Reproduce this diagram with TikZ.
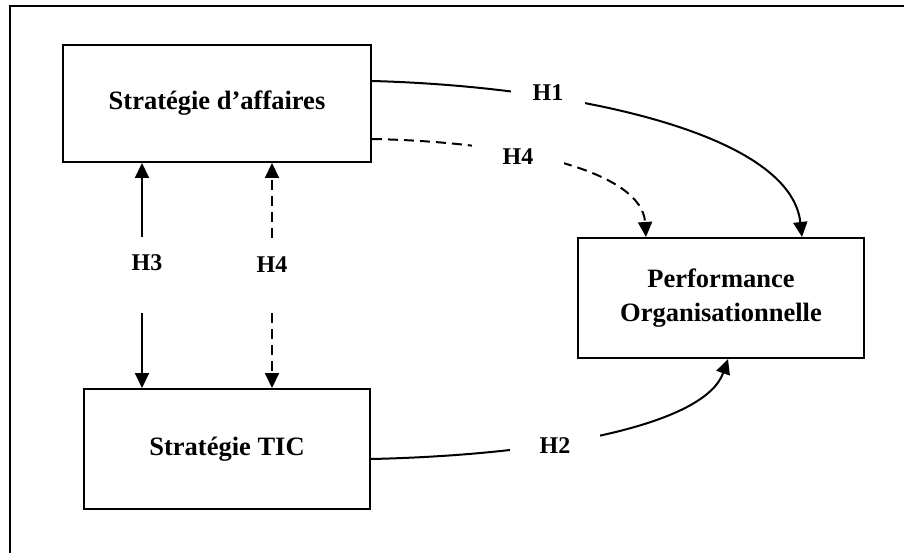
\documentclass[tikz,border=0pt]{standalone}
\usepackage{fontspec}
\setmainfont{Liberation Serif}
\usetikzlibrary{arrows.meta}
\begin{document}
\begin{tikzpicture}[x=1pt,y=-1pt,
  box/.style={draw,line width=2pt,inner sep=0pt,align=center,
    font=\fontsize{26.5}{34}\selectfont\bfseries},
  lab/.style={fill=white,inner sep=0pt,font=\fontsize{24}{28}\selectfont\bfseries},
  conn/.style={line width=2pt,-{Triangle[width=14pt,length=15pt]}},
  dconn/.style={conn,dash pattern=on 10pt off 6pt},
]
\useasboundingbox (0,0) rectangle (904,553);
\draw[line width=2pt] (10,570) -- (10,6) -- (920,6);

\node[box,minimum width=308pt,minimum height=117pt] (sa) at (217,103.5) {Stratégie d’affaires};
\node[box,minimum width=286pt,minimum height=120pt] (st) at (227,449) {Stratégie TIC};
\node[box,minimum width=286pt,minimum height=120pt] (pf) at (721,298) {Performance\\Organisationnelle};

% curved connectors
\draw[conn] ([yshift=22.5pt]sa.east) .. controls (560,86) and (790,130) .. ([xshift=81pt]pf.north);
\draw[dconn] ([yshift=-35.5pt]sa.east) .. controls (520,142) and (642,172) .. ([xshift=-75pt]pf.north);
\draw[conn] ([yshift=-10pt]st.east) .. controls (550,455) and (705,425) .. ([xshift=7pt]pf.south);

\node[lab,inner xsep=22pt,inner ysep=6pt] (h1) at (548,93) {H1};
\node[lab,inner xsep=31pt,inner ysep=6pt] (h4a) at (518,157) {H4};
\node[lab,inner xsep=30pt,inner ysep=6pt] (h2) at (555,446) {H2};

% vertical connectors
\coordinate (a3) at ([xshift=-75pt]sa.south);
\coordinate (b3) at (a3 |- st.north);
\coordinate (a4) at ([xshift=55pt]sa.south);
\coordinate (b4) at (a4 |- st.north);
\draw[conn,shorten <=151pt] (b3) -- (a3);
\draw[conn,shorten <=150pt] (a3) -- (b3);
\draw[dconn,shorten <=150pt] (b4) -- (a4);
\draw[dconn,shorten <=150pt] (a4) -- (b4);
\node[lab,fill=none] (h3) at (147,263) {H3};
\node[lab,fill=none] (h4b) at (272,265) {H4};
\end{tikzpicture}
\end{document}
